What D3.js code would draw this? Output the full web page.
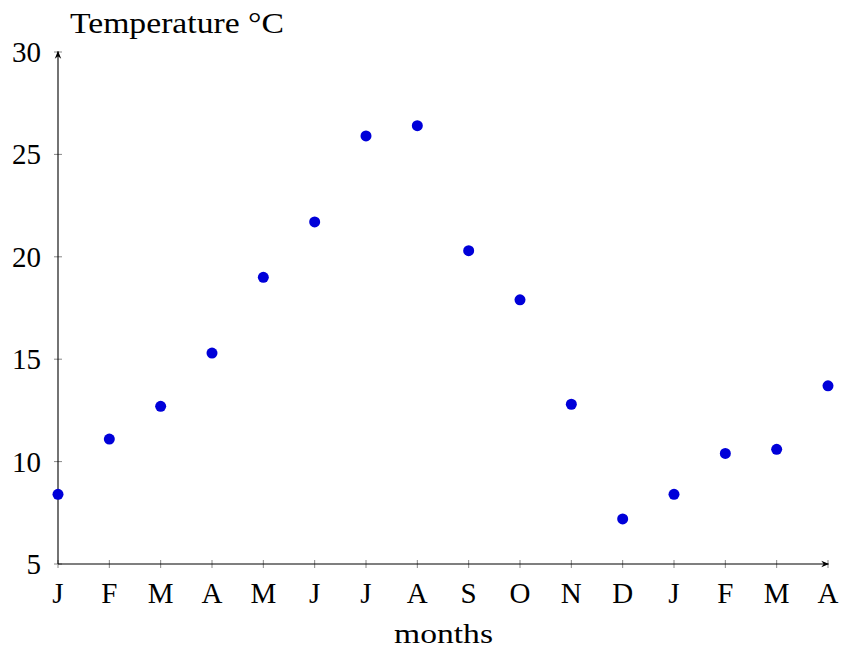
<!DOCTYPE html>
<html><head><meta charset="utf-8">
<script src="https://cdn.jsdelivr.net/npm/d3@7"></script>
<style>body{margin:0;background:#fff}svg text{font-family:"Liberation Serif","Times New Roman",serif;fill:#000}</style>
</head><body><svg id="c" width="842" height="650"></svg>
<script>
const months = ["J","F","M","A","M","J","J","A","S","O","N","D","J","F","M","A"];
const temps = [8.4,11.1,12.7,15.3,19.0,21.7,25.9,26.4,20.3,17.9,12.8,7.2,8.4,10.4,10.6,13.7];
const yTicks = [5,10,15,20,25,30];

const svg = d3.select("#c");
const x = d3.scaleLinear().domain([0, months.length-1]).range([58, 828]);
const y = d3.scaleLinear().domain([5, 30]).range([564, 52]);
const fs = 29;

const defs = svg.append("defs");
defs.append("marker").attr("id","arr").attr("viewBox","0 0 10 10").attr("refX",9).attr("refY",5)
  .attr("markerWidth",8).attr("markerHeight",8).attr("markerUnits","userSpaceOnUse").attr("orient","auto")
  .append("path").attr("d","M0,1 L10,5 L0,9 L3,5 Z").attr("fill","#000");

const idx = d3.range(months.length);
svg.append("g").selectAll("line").data(idx).join("line")
  .attr("x1",d=>x(d)).attr("x2",d=>x(d)).attr("y1",y(5)-4).attr("y2",y(5)+4)
  .attr("stroke","#888").attr("stroke-width",1);
svg.append("g").selectAll("line").data(yTicks).join("line")
  .attr("x1",x(0)-4).attr("x2",x(0)+4).attr("y1",d=>y(d)).attr("y2",d=>y(d))
  .attr("stroke","#888").attr("stroke-width",1);

svg.append("line").attr("x1",x(0)).attr("x2",x(15)+0.5).attr("y1",y(5)).attr("y2",y(5))
  .attr("stroke","#000").attr("stroke-width",1.1).attr("marker-end","url(#arr)");
svg.append("line").attr("x1",x(0)).attr("x2",x(0)).attr("y1",y(5)).attr("y2",y(30)-0.5)
  .attr("stroke","#000").attr("stroke-width",1.1).attr("marker-end","url(#arr)");

svg.append("g").selectAll("text").data(idx).join("text")
  .attr("x",d=>x(d)).attr("y",603).attr("text-anchor","middle").attr("font-size",fs)
  .text(d=>months[d]);
svg.append("g").selectAll("text").data(yTicks).join("text")
  .attr("x",41).attr("y",d=>y(d)+10).attr("text-anchor","end").attr("font-size",fs)
  .text(d=>d);

svg.append("text").attr("x",394).attr("y",643).attr("font-size",28)
  .attr("textLength",99).attr("lengthAdjust","spacingAndGlyphs").text("months");
svg.append("text").attr("x",70).attr("y",33).attr("font-size",fs)
  .attr("textLength",214).attr("lengthAdjust","spacingAndGlyphs").text("Temperature \u00B0C");

svg.append("g").selectAll("circle").data(temps).join("circle")
  .attr("cx",(d,i)=>x(i)).attr("cy",d=>y(d)).attr("r",5.5).attr("fill","#0000d9");
</script></body></html>
